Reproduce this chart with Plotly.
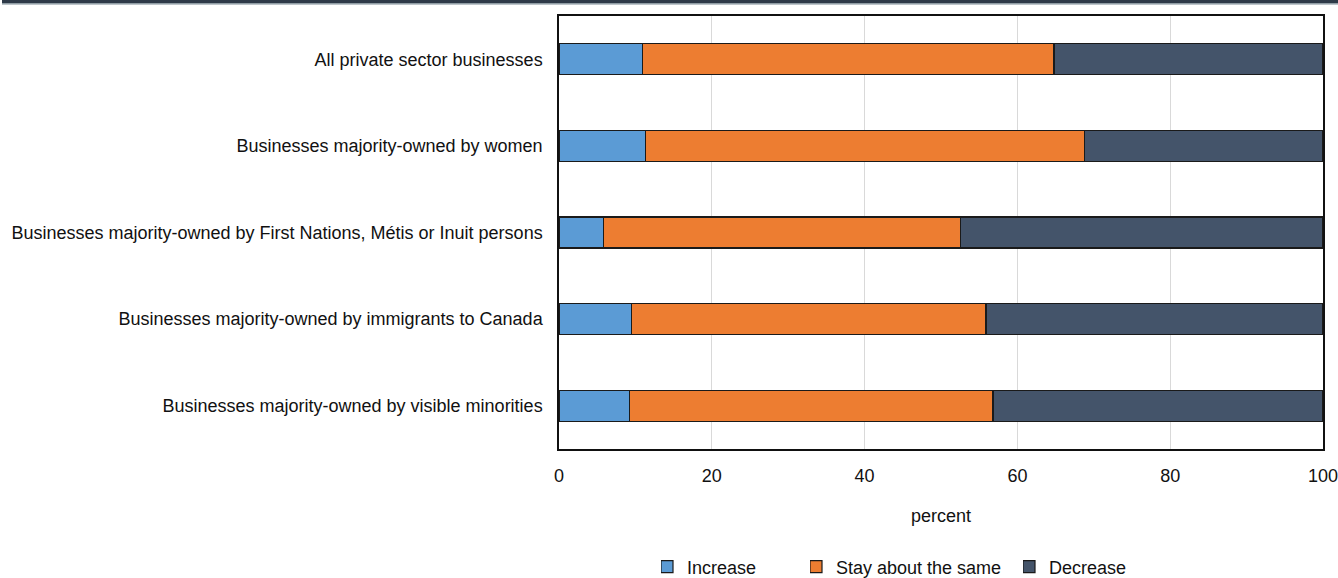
import plotly.graph_objects as go

# Share of businesses by expected change, per ownership group (percent)
categories = [
    "All private sector businesses",
    "Businesses majority-owned by women",
    "Businesses majority-owned by First Nations, Métis or Inuit persons",
    "Businesses majority-owned by immigrants to Canada",
    "Businesses majority-owned by visible minorities",
]
increase = [10.9, 11.3, 5.8, 9.5, 9.2]
stay_same = [53.9, 57.5, 46.7, 46.4, 47.6]
decrease = [35.2, 31.2, 47.5, 44.1, 43.2]

series_names = ["Increase", "Stay about the same", "Decrease"]
series_colors = ["#5B9BD5", "#ED7D31", "#44546A"]
x_ticks = [0, 20, 40, 60, 80, 100]

FONT = "Liberation Sans Narrow, Arial Narrow, sans-serif"
W, H = 1338, 578
L, R, T, B = 559, 15, 16, 129

fig = go.Figure()
legend_ids = ["legend", "legend2", "legend3"]
for name, vals, color, lg in zip(series_names, [increase, stay_same, decrease], series_colors, legend_ids):
    fig.add_trace(go.Bar(
        y=categories, x=vals, name=name, orientation="h",
        marker=dict(color=color, line=dict(color="#1a1a1a", width=1.2)),
        legend=lg,
    ))

pw = W - L - R
ph = H - T - B

# header rule across the full page width
fig.add_shape(type="rect", xref="paper", yref="paper",
              x0=(2 - L) / pw, x1=(W - L) / pw,
              y0=1 + (T - 3.3) / ph, y1=1 + T / ph,
              fillcolor="#2E3A48", line=dict(width=0), layer="above")
fig.add_shape(type="rect", xref="paper", yref="paper",
              x0=(2 - L) / pw, x1=(W - L) / pw,
              y0=1 + (T - 4.6) / ph, y1=1 + (T - 3.3) / ph,
              fillcolor="#7D8C96", line=dict(width=0), layer="above")

legend_common = dict(orientation="h", yref="container", y=0.019, yanchor="middle",
                     xanchor="left", font=dict(family=FONT, size=18, color="#111"),
                     bgcolor="rgba(0,0,0,0)", itemwidth=30, tracegroupgap=0,
                     indentation=-14)
legend_x = [(661 - L) / pw, (810 - L) / pw, (1023 - L) / pw]

fig.update_layout(
    width=W, height=H,
    margin=dict(l=L, r=R, t=T, b=B, pad=0),
    paper_bgcolor="white", plot_bgcolor="white",
    barmode="stack", bargap=0.64,
    font=dict(family=FONT, size=18, color="#111"),
    xaxis=dict(range=[0, 100], tickvals=x_ticks, showgrid=True, gridcolor="#D9D9D9",
               gridwidth=1.3, zeroline=False, showline=True, linecolor="#111",
               linewidth=1.5, mirror=True, ticks="", ticklabelstandoff=10,
               ticklabeloverflow="allow", automargin=False,
               title=dict(text="percent", standoff=24, font=dict(family=FONT, size=18))),
    yaxis=dict(autorange="reversed", showline=True, linecolor="#111", linewidth=1.5,
               mirror=True, ticks="", ticklabelstandoff=11, showgrid=False,
               automargin=False),
    legend=dict(legend_common, x=legend_x[0]),
    legend2=dict(legend_common, x=legend_x[1]),
    legend3=dict(legend_common, x=legend_x[2]),
    showlegend=True,
)

fig.write_html("out.html")
